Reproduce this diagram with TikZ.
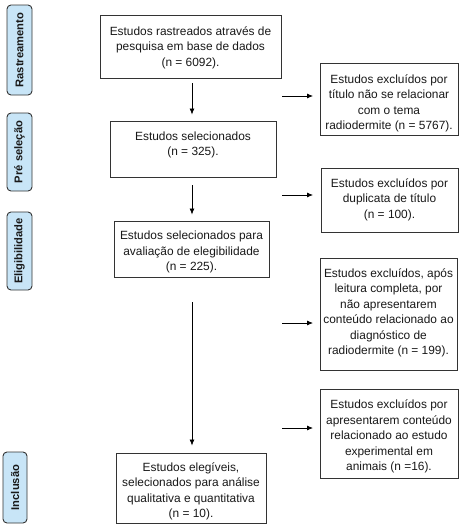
\documentclass[tikz,border=0pt]{standalone}
\usepackage{fontspec}
\setmainfont{Liberation Sans}
\usetikzlibrary{arrows.meta,calc}
\definecolor{sidefill}{HTML}{C8E5F7}
\definecolor{edge}{HTML}{333333}
\begin{document}
\begin{tikzpicture}[x=1pt,y=-1pt,
  box/.style={draw=edge,line width=0.9pt,fill=white,inner sep=0pt},
  txt/.style={align=center,font=\fontsize{11.9}{15.5}\selectfont,inner sep=0pt,text=black!90},
  side/.style={draw=edge,line width=0.9pt,fill=sidefill,rounded corners=4pt,inner sep=0pt,
    minimum width=25pt},
  sidetxt/.style={rotate=90,font=\fontsize{11.2}{13}\selectfont\bfseries,inner sep=0pt,text=black!90},
  arr/.style={line width=0.75pt,-{Latex[length=6pt,width=5pt]}}]
\useasboundingbox (0,0) rectangle (464,531);
% side labels
\node[side,minimum height=90pt] (s1) at (19.5,50) {};
\node[sidetxt] at (s1.center) {Rastreamento};
\node[side,minimum height=78pt] (s2) at (19.5,152) {};
\node[sidetxt] at (s2.center) {Pré seleção};
\node[side,minimum height=78pt] (s3) at (19.5,251) {};
\node[sidetxt] at (s3.center) {Eligibilidade};
\node[side,minimum height=71pt,minimum width=24pt] (s4) at (15,487.5) {};
\node[sidetxt] at (s4.center) {Inclusão};
% main column
\node[box,minimum width=181pt,minimum height=63pt] (b1) at (190.5,46.5) {};
\node[txt] at (190.5,47.5) {Estudos rastreados através de\\pesquisa em base de dados\\(n = 6092).};
\node[box,minimum width=166pt,minimum height=56pt] (b2) at (193,149) {};
\node[txt] at (193,145) {Estudos selecionados\\(n = 325).};
\node[box,minimum width=155pt,minimum height=56pt] (b3) at (191.5,249) {};
\node[txt] at (191.5,252) {Estudos selecionados para\\avaliação de elegibilidade\\(n = 225).};
\node[box,minimum width=150pt,minimum height=70pt] (b4) at (191,488) {};
\node[txt] at (191,491.5) {Estudos elegíveis,\\selecionados para análise\\qualitativa e quantitativa\\(n = 10).};
% right column
\node[box,minimum width=138pt,minimum height=72pt] (r1) at (389,99) {};
\node[txt] at (389,103.5) {Estudos excluídos por\\título não se relacionar\\com o tema\\radiodermite (n = 5767).};
\node[box,minimum width=137pt,minimum height=64pt] (r2) at (389.5,200) {};
\node[txt] at (389.5,199.5) {Estudos excluídos por\\duplicata de título\\(n = 100).};
\node[box,minimum width=137pt,minimum height=112pt] (r3) at (388.5,314) {};
\node[txt] at (388.5,313) {Estudos excluídos, após\\leitura completa, por\\não apresentarem\\conteúdo relacionado ao\\diagnóstico de\\radiodermite (n = 199).};
\node[box,minimum width=138pt,minimum height=89pt] (r4) at (389,433.5) {};
\node[txt] at (389,436.5) {Estudos excluídos por\\apresentarem conteúdo\\relacionado ao estudo\\experimental em\\animais (n =16).};
% down arrows
\coordinate (colx) at (192,0);
\draw[arr] ([yshift=-5pt]b1.south -| colx) -- ([yshift=6pt]b2.north -| colx);
\draw[arr] ([yshift=-8pt]b2.south -| colx) -- ([yshift=6pt]b3.north -| colx);
\draw[arr] ([yshift=-25pt]b3.south -| colx) -- ([yshift=7pt]b4.north -| colx);
% exclusion arrows
\coordinate (e1a) at (282,96);  \coordinate (e1b) at (313,96);
\coordinate (e2a) at (282,195); \coordinate (e2b) at (313,195);
\coordinate (e3a) at (282,323); \coordinate (e3b) at (313,323);
\coordinate (e4a) at (282,428); \coordinate (e4b) at (313,428);
\draw[arr] (e1a) -- (e1b);
\draw[arr] (e2a) -- (e2b);
\draw[arr] (e3a) -- (e3b);
\draw[arr] (e4a) -- (e4b);
\end{tikzpicture}
\end{document}
